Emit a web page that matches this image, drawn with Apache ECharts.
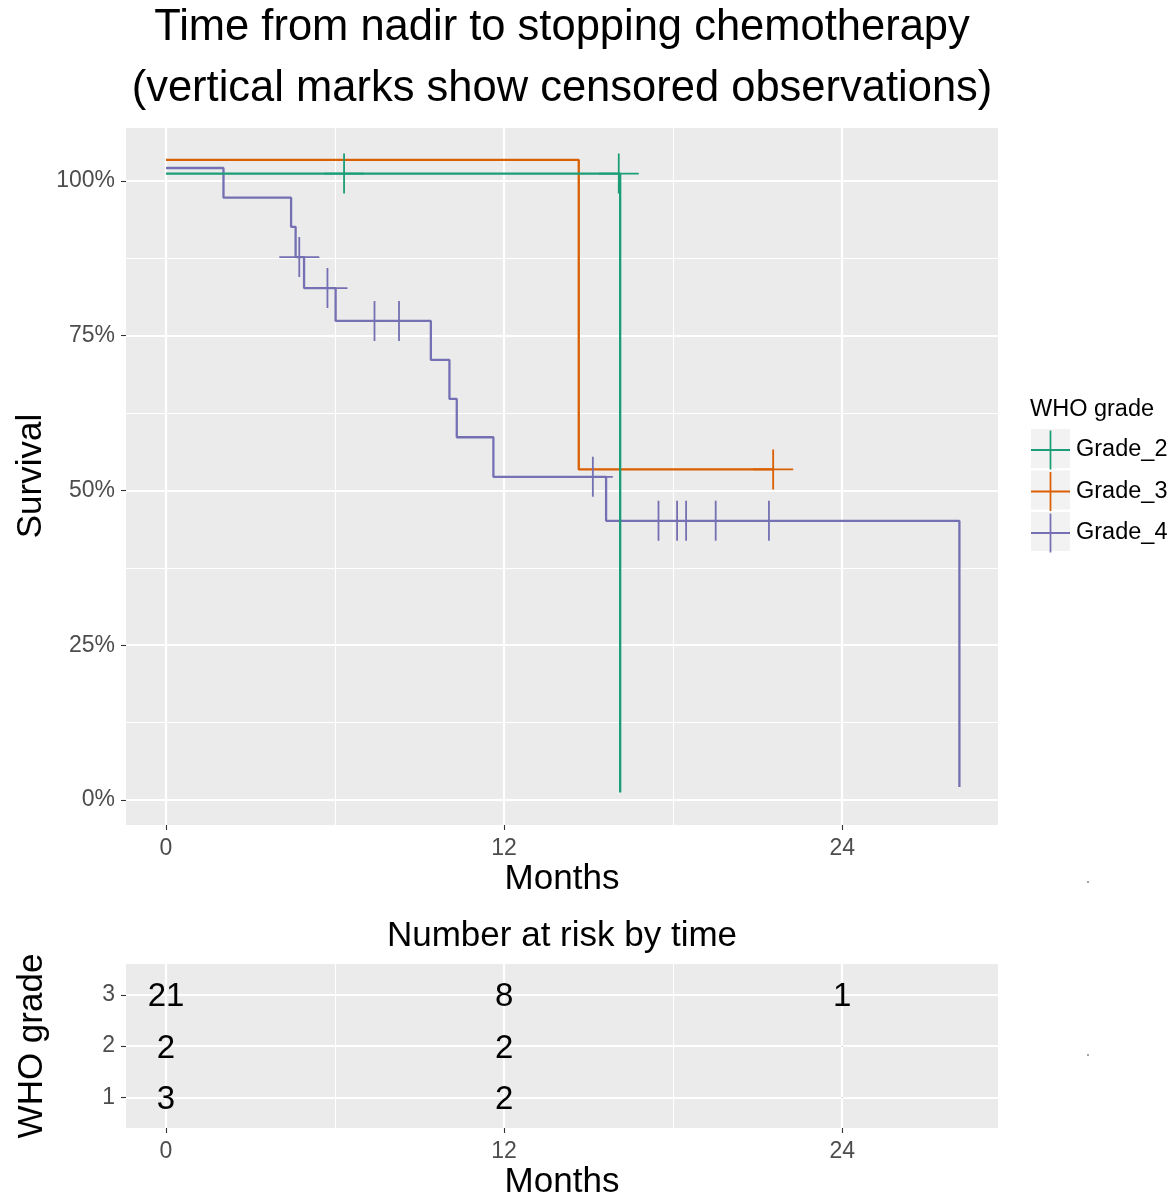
<!DOCTYPE html>
<html><head><meta charset="utf-8">
<script src="https://cdn.jsdelivr.net/npm/echarts@6/dist/echarts.min.js"></script>
<style>html,body{margin:0;padding:0;background:#fff}#c{width:1176px;height:1199px}</style>
</head><body><div id="c"></div>
<script>
// ---------- data ----------
const groups = ['Grade_2', 'Grade_3', 'Grade_4'];
const colors = ['#1B9E77', '#D95F02', '#7570B3'];
// survival steps [months, survival %] (curves carry small vertical offsets as in the source)
const stepsG2 = [[0, 101.2], [16.12, 1.2]];
const stepsG3 = [[0, 103.4], [14.65, 53.4], [21.55, 53.4]];
const stepsG4 = [[0, 102.1], [2.04, 97.3], [4.44, 92.6], [4.60, 87.7], [4.90, 82.7], [6.02, 77.4],
                 [9.40, 71.1], [10.06, 64.8], [10.32, 58.6], [11.62, 52.2], [15.62, 45.1], [28.16, 2.1]];
// censored observations [months, survival %]
const censorG2 = [[6.32, 101.2], [16.07, 101.2]];
const censorG3 = [[21.55, 53.4]];
const censorG4 = [[4.73, 87.7], [5.73, 82.7], [7.40, 77.4], [8.27, 77.4], [15.15, 52.2],
                  [17.48, 45.1], [18.14, 45.1], [18.46, 45.1], [19.51, 45.1], [21.40, 45.1]];
const xTicks = [0, 12, 24];
const xMinor = [6, 18];
const yTicks = [0, 25, 50, 75, 100];
const yMinor = [12.5, 37.5, 62.5, 87.5];
// number at risk table
const riskTimes = [0, 12, 24];
const riskRows = [1, 2, 3];
const riskG2 = ['3', '2', '.'];
const riskG3 = ['2', '2', '.'];
const riskG4 = ['21', '8', '1'];

// ---------- build ----------
const FF = '"Liberation Sans", Arial, Helvetica, sans-serif';
const PLUS = 'path://M0,19.1h40v1.8h-40zM19.1,0h1.8v40h-1.8z';
const X_MIN = -1.42, X_MAX = 29.53;
const Y_MIN = -4.04, Y_MAX = 108.56;

function xAxisMajor(gi) {
  return {
    gridIndex: gi, type: 'value', min: X_MIN, max: X_MAX, position: 'bottom',
    axisLine: { show: false, onZero: false },
    axisTick: { show: true, customValues: xTicks, length: 5, lineStyle: { color: '#333333', width: 1.1 } },
    axisLabel: { customValues: xTicks, fontSize: 23, color: '#4D4D4D', margin: 12, fontFamily: FF },
    splitLine: { show: true, lineStyle: { color: '#FFFFFF', width: 2.2 } }
  };
}
function xAxisMinor(gi) {
  return {
    gridIndex: gi, type: 'value', min: X_MIN, max: X_MAX, position: 'top',
    axisLine: { show: false, onZero: false },
    axisTick: { show: false, customValues: xMinor },
    axisLabel: { show: false, customValues: xMinor },
    splitLine: { show: true, lineStyle: { color: '#FFFFFF', width: 1.1 } }
  };
}

const lineData = [stepsG2, stepsG3, stepsG4];
const censData = [censorG2, censorG3, censorG4];
const series = [];
[2, 1, 0].forEach(i => {
  series.push({
    name: groups[i], type: 'line', step: 'end', data: lineData[i],
    xAxisIndex: 0, yAxisIndex: 0, showSymbol: false, symbol: 'none',
    lineStyle: { color: colors[i], width: 2.3 }, itemStyle: { color: colors[i] },
    z: 3 + (2 - i), animation: false, silent: true
  });
});
[2, 1, 0].forEach(i => {
  series.push({
    name: groups[i], type: 'scatter', data: censData[i],
    xAxisIndex: 0, yAxisIndex: 0, symbol: PLUS, symbolSize: 40,
    itemStyle: { color: colors[i], borderWidth: 0, opacity: 1 }, z: 6, animation: false, silent: true
  });
});
const riskByRow = { 1: riskG2, 2: riskG3, 3: riskG4 };
const riskData = [];
riskRows.forEach(r => {
  riskTimes.forEach((t, k) => {
    const txt = riskByRow[r][k];
    riskData.push({ value: [t, r, txt], label: txt === '.' ? { fontSize: 6, offset: [0, -1] } : {} });
  });
});
series.push({
  type: 'scatter', data: riskData, xAxisIndex: 2, yAxisIndex: 2,
  symbolSize: 1, itemStyle: { color: 'rgba(0,0,0,0)', opacity: 1 }, silent: true, animation: false,
  label: { show: true, position: 'inside', formatter: p => p.value[2], fontSize: 33,
           color: '#000000', textBorderWidth: 0, fontFamily: FF, offset: [0, 2.5] }
});

function txt(x, y, s, size, align, rot) {
  const e = { type: 'text', x: x, y: y, style: { text: s, font: size + 'px ' + FF, fill: '#000', align: align || 'center', verticalAlign: 'middle', textAlign: align || 'center', textVerticalAlign: 'middle' } };
  if (rot) e.rotation = rot;
  return e;
}
const graphic = [
  txt(562, 28, 'Time from nadir to stopping chemotherapy', 43.5),
  txt(562, 89, '(vertical marks show censored observations)', 43.5),
  txt(31, 476, 'Survival', 35, 'center', Math.PI / 2),
  txt(562, 879, 'Months', 35),
  txt(1030, 410, 'WHO grade', 23.5, 'left'),
  txt(562, 936, 'Number at risk by time', 35),
  txt(32, 1046, 'WHO grade', 35, 'center', Math.PI / 2),
  txt(562, 1182, 'Months', 35),
  { type: 'circle', shape: { cx: 1088, cy: 882, r: 0.7 }, style: { fill: '#000' } },
  { type: 'circle', shape: { cx: 1088, cy: 1055, r: 0.7 }, style: { fill: '#000' } }
];
groups.forEach((g, i) => {
  graphic.push({ type: 'rect', shape: { x: 1031, y: 429 + i * 41.5, width: 39, height: 39 }, style: { fill: '#F2F2F2' }, z: -1 });
});

const option = {
  backgroundColor: '#FFFFFF',
  animation: false,
  grid: [
    { left: 126, top: 128, width: 872, height: 697, show: true, backgroundColor: '#EBEBEB', borderWidth: 0, containLabel: false },
    { left: 126, top: 964, width: 872, height: 164, show: true, backgroundColor: '#EBEBEB', borderWidth: 0, containLabel: false }
  ],
  xAxis: [xAxisMajor(0), xAxisMinor(0), xAxisMajor(1), xAxisMinor(1)],
  yAxis: [
    {
      gridIndex: 0, type: 'value', min: Y_MIN, max: Y_MAX, position: 'left',
      axisLine: { show: false, onZero: false },
      axisTick: { show: true, customValues: yTicks, length: 5, lineStyle: { color: '#333333', width: 1.1 } },
      axisLabel: { customValues: yTicks, formatter: '{value}%', fontSize: 23, color: '#4D4D4D', margin: 11, fontFamily: FF, padding: [5, 0, 0, 0] },
      splitLine: { show: true, lineStyle: { color: '#FFFFFF', width: 2.2 } }
    },
    {
      gridIndex: 0, type: 'value', min: Y_MIN, max: Y_MAX, position: 'right',
      axisLine: { show: false, onZero: false },
      axisTick: { show: false, customValues: yMinor },
      axisLabel: { show: false, customValues: yMinor },
      splitLine: { show: true, lineStyle: { color: '#FFFFFF', width: 1.1 } }
    },
    {
      gridIndex: 1, type: 'value', min: 0.4, max: 3.6, position: 'left',
      axisLine: { show: false, onZero: false },
      axisTick: { show: true, customValues: riskRows, length: 5, lineStyle: { color: '#333333', width: 1.1 } },
      axisLabel: { customValues: riskRows, fontSize: 23, color: '#4D4D4D', margin: 11, fontFamily: FF, padding: [5, 0, 0, 0] },
      splitLine: { show: true, lineStyle: { color: '#FFFFFF', width: 2.2 } }
    }
  ],
  legend: {
    left: 1031, top: 430.5, orient: 'vertical', itemWidth: 39, itemHeight: 39, itemGap: 2.5,
    padding: 0, selectedMode: false,
    data: groups.map((g, i) => ({ name: g, icon: PLUS, itemStyle: { color: colors[i], borderWidth: 0 } })),
    textStyle: { fontSize: 23.5, color: '#000', fontFamily: FF, padding: [2, 0, 0, 1] }
  },
  graphic: graphic,
  series: series
};
const chart = echarts.init(document.getElementById('c'), null, { renderer: 'canvas' });
chart.setOption(option);
</script>
</body></html>
